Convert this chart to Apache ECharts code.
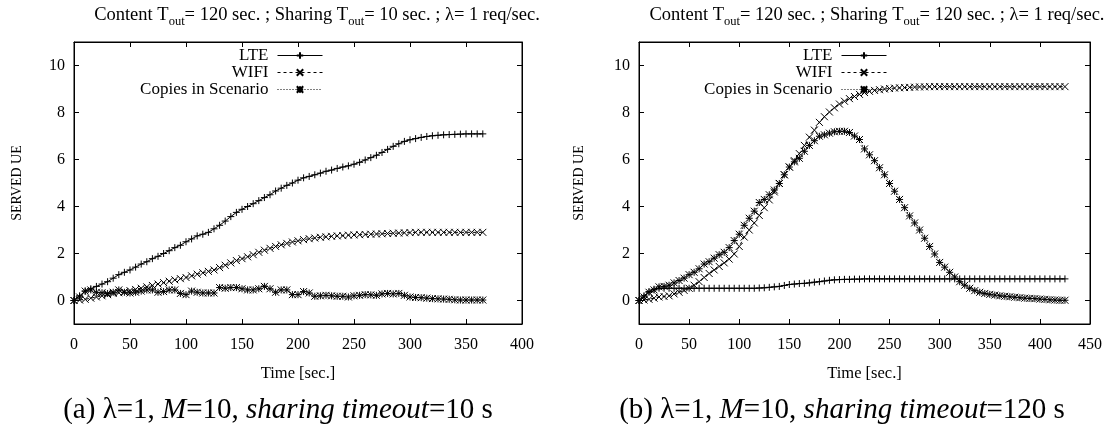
<!DOCTYPE html>
<html><head><meta charset="utf-8">
<script src="https://cdn.jsdelivr.net/npm/echarts@6/dist/echarts.min.js"></script>
<style>html,body{margin:0;padding:0;background:#fff}#c{width:1114px;height:424px}</style>
</head><body><div id="c"></div>
<script>
const seriesNames = ['LTE', 'WIFI', 'Copies in Scenario'];
const timeStep = 5; // seconds between samples
const xTicksA = [0, 50, 100, 150, 200, 250, 300, 350, 400];
const xTicksB = [0, 50, 100, 150, 200, 250, 300, 350, 400, 450];
const yTicks = [0, 2, 4, 6, 8, 10];

// (a) sharing timeout 10 s, samples t = 0..365
const lteA = [0,0.2,0.4,0.5,0.6,0.7,0.8,0.95,1.1,1.2,
 1.3,1.42,1.55,1.65,1.78,1.88,2.0,2.12,2.25,2.35,
 2.5,2.62,2.75,2.82,2.9,3.05,3.2,3.38,3.57,3.75,
 3.88,4.0,4.12,4.25,4.38,4.5,4.66,4.78,4.9,5.0,
 5.12,5.22,5.28,5.35,5.42,5.5,5.55,5.62,5.68,5.73,
 5.8,5.88,5.98,6.08,6.18,6.3,6.43,6.56,6.67,6.77,
 6.84,6.89,6.94,6.98,7.01,7.03,7.05,7.06,7.07,7.08,
 7.09,7.09,7.09,7.09];
const wifiA = [0,0.02,0.05,0.1,0.15,0.2,0.25,0.3,0.33,0.37,
 0.42,0.47,0.52,0.58,0.64,0.7,0.76,0.82,0.88,0.93,
 0.98,1.05,1.12,1.18,1.24,1.3,1.4,1.5,1.6,1.7,
 1.78,1.86,1.95,2.05,2.14,2.22,2.3,2.37,2.43,2.49,
 2.54,2.59,2.63,2.66,2.69,2.71,2.73,2.75,2.76,2.78,
 2.79,2.8,2.81,2.82,2.83,2.84,2.85,2.86,2.87,2.88,
 2.89,2.9,2.9,2.9,2.9,2.9,2.9,2.9,2.9,2.9,
 2.9,2.9,2.9,2.9];
const copiesA = [0,0.15,0.4,0.45,0.35,0.33,0.3,0.35,0.45,0.35,
 0.32,0.35,0.4,0.45,0.45,0.35,0.38,0.45,0.45,0.3,
 0.25,0.4,0.35,0.32,0.32,0.32,0.55,0.52,0.55,0.55,
 0.5,0.45,0.45,0.5,0.6,0.5,0.35,0.45,0.45,0.25,
 0.25,0.38,0.32,0.18,0.2,0.22,0.2,0.18,0.18,0.15,
 0.2,0.22,0.25,0.24,0.22,0.28,0.3,0.28,0.3,0.22,
 0.15,0.13,0.12,0.1,0.08,0.07,0.06,0.05,0.03,0.02,
 0.02,0.02,0.02,0.02];

// (b) sharing timeout 120 s, samples t = 0..425
const lteB = [0,0.2,0.38,0.48,0.52,
 0.52,0.52,0.52,0.52,0.52,0.52,0.52,0.52,0.52,0.52,
 0.52,0.52,0.52,0.52,0.52,0.52,0.52,0.52,0.52,0.53,
 0.54,0.56,0.58,0.6,0.64,0.68,0.7,0.72,0.73,0.75,
 0.78,0.8,0.83,0.86,0.88,0.89,0.9,0.9,0.91,0.91,0.92,
 0.92,0.92,0.92,0.92,0.92,0.92,0.92,0.92,0.92,0.92,
 0.92,0.92,0.92,0.92,0.92,0.92,0.92,0.92,0.92,0.92,
 0.92,0.92,0.92,0.92,0.92,0.92,0.92,0.92,0.92,0.92,
 0.92,0.92,0.92,0.92,0.92,0.92,0.92,0.92,0.92,0.92];
const wifiB = [0,0.02,0.05,0.1,0.15,0.17,0.2,0.28,0.35,0.43,
 0.52,0.65,0.8,0.98,1.15,1.3,1.45,1.6,1.76,1.98,
 2.3,2.7,3.0,3.3,3.62,3.95,4.28,4.62,4.98,5.35,
 5.68,5.95,6.25,6.6,6.95,7.25,7.58,7.82,8.02,8.2,
 8.36,8.48,8.59,8.68,8.77,8.85,8.9,8.94,8.97,9.0,
 9.02,9.04,9.05,9.06,9.07,9.08,9.09,9.09,9.1,9.1,
 9.1,9.1,9.1,9.1,9.1,9.1,9.1,9.1,9.1,9.1,
 9.1,9.1,9.1,9.1,9.1,9.1,9.1,9.1,9.1,9.1,
 9.1,9.1,9.1,9.1,9.1,9.1];
const copiesB = [0,0.15,0.35,0.45,0.58,0.6,0.65,0.75,0.85,0.95,
 1.1,1.2,1.35,1.55,1.65,1.8,1.95,2.05,2.25,2.55,
 2.82,3.2,3.5,3.8,4.17,4.3,4.5,4.7,4.98,5.35,
 5.68,5.9,6.05,6.35,6.6,6.8,6.99,7.05,7.12,7.18,
 7.2,7.2,7.15,7.0,6.85,6.45,6.2,5.95,5.65,5.35,
 4.98,4.65,4.3,3.95,3.6,3.3,3.0,2.65,2.3,1.98,
 1.62,1.42,1.2,1.0,0.8,0.65,0.52,0.42,0.35,0.3,
 0.26,0.23,0.2,0.18,0.16,0.14,0.12,0.1,0.09,0.08,
 0.06,0.05,0.03,0.02,0.01,0.01];

const FONT = 'Liberation Serif';
const pairs = arr => arr.map((v, i) => [i * timeStep, v]);

const SYM = {
  plus: 'path://M0,5L10,5M5,0L5,10',
  cross: 'path://M0,0L10,10M10,0L0,10',
  star: 'path://M0,0L10,10M10,0L0,10M0,5L10,5M5,0L5,10'
};
const styles = [
  {sym: SYM.plus, dash: 'solid'},
  {sym: SYM.cross, dash: [3, 3]},
  {sym: SYM.star, dash: [1, 2]}
];

function mkSeries(name, data, k, gi) {
  return {
    type: 'line', name: name, data: pairs(data),
    xAxisIndex: gi * 2, yAxisIndex: gi * 2,
    symbol: styles[k].sym, symbolSize: 7, showSymbol: true, showAllSymbol: true,
    lineStyle: {color: '#000', width: 1, type: styles[k].dash},
    itemStyle: {color: '#000', borderColor: '#000', borderWidth: 1},
    emphasis: {disabled: true}, animation: false, z: 3 - k
  };
}

const grids = [
  {left: 74, right: 592, top: 42, bottom: 100},
  {left: 639, right: 24, top: 42, bottom: 100}
];

const xAxes = [], yAxes = [];
[[xTicksA, 400, 53], [xTicksB, 450, 56]].forEach(([ticks, max, gap], gi) => {
  xAxes.push({
    type: 'value', gridIndex: gi, min: 0, max: max, interval: 50, position: 'bottom',
    name: 'Time [sec.]', nameLocation: 'middle', nameGap: 41,
    nameTextStyle: {fontFamily: FONT, fontSize: 16.5, color: '#000'},
    axisLine: {show: true, onZero: false, lineStyle: {color: '#000', width: 1}},
    axisTick: {show: true, inside: true, length: 5, lineStyle: {color: '#000'}},
    axisLabel: {fontFamily: FONT, fontSize: 16, color: '#000', margin: 13},
    splitLine: {show: false}
  });
  xAxes.push({
    type: 'value', gridIndex: gi, min: 0, max: max, interval: 50, position: 'top',
    axisLine: {show: true, onZero: false, lineStyle: {color: '#000', width: 1}},
    axisTick: {show: true, inside: true, length: 5, lineStyle: {color: '#000'}},
    axisLabel: {show: false}, splitLine: {show: false}
  });
  yAxes.push({
    type: 'value', gridIndex: gi, min: -1, max: 11, position: 'left',
    name: 'SERVED UE', nameLocation: 'middle', nameGap: gap - 3,
    nameTextStyle: {fontFamily: FONT, fontSize: 14, color: '#000'},
    axisLine: {show: true, onZero: false, lineStyle: {color: '#000', width: 1}},
    axisTick: {show: true, inside: true, length: 5, customValues: yTicks, lineStyle: {color: '#000'}},
    axisLabel: {fontFamily: FONT, fontSize: 16, color: '#000', margin: 9, customValues: yTicks},
    splitLine: {show: false}
  });
  yAxes.push({
    type: 'value', gridIndex: gi, min: -1, max: 11, position: 'right',
    axisLine: {show: true, onZero: false, lineStyle: {color: '#000', width: 1}},
    axisTick: {show: true, inside: true, length: 5, customValues: yTicks, lineStyle: {color: '#000'}},
    axisLabel: {show: false}, splitLine: {show: false}
  });
});

const series = [
  mkSeries(seriesNames[0], lteA, 0, 0),
  mkSeries(seriesNames[1], wifiA, 1, 0),
  mkSeries(seriesNames[2], copiesA, 2, 0),
  mkSeries(seriesNames[0], lteB, 0, 1),
  mkSeries(seriesNames[1], wifiB, 1, 1),
  mkSeries(seriesNames[2], copiesB, 2, 1)
];

function legendAt(right) {
  return {
    data: seriesNames, orient: 'vertical', align: 'right', right: right, top: 47,
    itemWidth: 45, itemHeight: 8, itemGap: 0, padding: 0, selectedMode: false,
    lineStyle: {width: 1, color: '#000'},
    textStyle: {fontFamily: FONT, fontSize: 17, color: '#000', lineHeight: 17, padding: [0, 4, 0, 0]}
  };
}

const titleRich = {
  n: {fontFamily: FONT, fontSize: 18.5, color: '#000', lineHeight: 26, verticalAlign: 'middle'},
  s: {fontFamily: FONT, fontSize: 12.5, color: '#000', lineHeight: 26, verticalAlign: 'bottom'}
};
const capRich = {
  n: {fontFamily: FONT, fontSize: 29, color: '#000'},
  i: {fontFamily: FONT, fontSize: 29, color: '#000', fontStyle: 'italic'}
};
function titleText(share) {
  return '{n|Content T}{s|out}{n|= 120 sec. ; Sharing T}{s|out}{n|= ' + share + ' sec. ; \u03bb= 1 req/sec.}';
}
function capText(lbl, share) {
  return '{n|(' + lbl + ') \u03bb=1, }{i|M}{n|=10, }{i|sharing timeout}{n|=' + share + ' s}';
}

const chart = echarts.init(document.getElementById('c'), null, {renderer: 'canvas'});
chart.setOption({
  backgroundColor: '#fff',
  animation: false,
  grid: grids.map(g => Object.assign({show: true, borderColor: '#000', borderWidth: 1, backgroundColor: 'transparent'}, g)),
  xAxis: xAxes,
  yAxis: yAxes,
  legend: [legendAt(791), legendAt(227)],
  series: series,
  graphic: [
    {type: 'text', x: 317, y: 15, style: {text: titleText(10), rich: titleRich, align: 'center', verticalAlign: 'middle'}},
    {type: 'text', x: 877, y: 15, style: {text: titleText(120), rich: titleRich, align: 'center', verticalAlign: 'middle'}},
    {type: 'text', x: 278, y: 410, style: {text: capText('a', 10), rich: capRich, align: 'center', verticalAlign: 'middle'}},
    {type: 'text', x: 842, y: 410, style: {text: capText('b', 120), rich: capRich, align: 'center', verticalAlign: 'middle'}}
  ]
});
</script>
</body></html>
